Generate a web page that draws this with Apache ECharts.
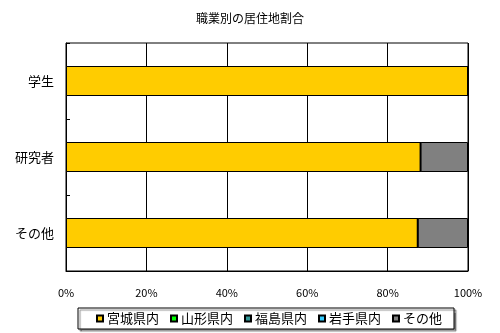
<!DOCTYPE html>
<html>
<head>
<meta charset="utf-8">
<script src="https://cdn.jsdelivr.net/npm/echarts@6/dist/echarts.min.js"></script>
<style>html,body{margin:0;padding:0;background:#fff;}#c{width:500px;height:333px;}</style>
</head>
<body>
<div id="c"></div>
<script>
const categories = ['学生', '研究者', 'その他'];
const seriesNames = ['宮城県内', '山形県内', '福島県内', '岩手県内', 'その他'];
const miyagi = [100, 88.2, 87.5];
const yamagata = [0, 0, 0];
const fukushima = [0, 0, 0];
const iwate = [0, 0, 0];
const other = [0, 11.8, 12.5];
const xTicks = [0, 20, 40, 60, 80, 100];
const colors = ['#FFCC00', '#00FF00', '#339999', '#33CCFF', '#808080'];
const values = [miyagi, yamagata, fukushima, iwate, other];

const FONT = '"Noto Sans CJK JP", sans-serif';
const chart = echarts.init(document.getElementById('c'), null, {renderer: 'canvas'});
chart.setOption({
  animation: false,
  backgroundColor: '#fff',
  textStyle: {fontFamily: FONT, color: '#000'},
  title: {
    text: '職業別の居住地割合', left: 'center', top: 7,
    textStyle: {fontSize: 12, fontWeight: 'normal', color: '#000', fontFamily: FONT}
  },
  grid: {left: 66, right: 32, top: 43, bottom: 62, show: true, borderColor: '#000', borderWidth: 1, backgroundColor: 'transparent'},
  xAxis: {
    type: 'value', min: xTicks[0], max: xTicks[xTicks.length - 1], interval: 20,
    axisLine: {show: true, lineStyle: {color: '#000'}},
    axisTick: {show: false},
    splitLine: {show: true, lineStyle: {color: '#000', width: 1}},
    axisLabel: {formatter: '{value}%', fontSize: 11, color: '#000', margin: 16, fontFamily: FONT}
  },
  yAxis: {
    type: 'category', data: categories, inverse: true,
    axisLine: {show: true, lineStyle: {color: '#000'}},
    axisTick: {show: true, inside: true, length: 4, lineStyle: {color: '#000'}},
    axisLabel: {fontSize: 13, color: '#000', margin: 12, fontFamily: FONT}
  },
  legend: {
    data: seriesNames, left: 78, top: 308,
    itemWidth: 6, itemHeight: 6, itemGap: 11,
    icon: 'rect',
    textStyle: {fontSize: 13, color: '#000', fontFamily: FONT, padding: [0, 0, 0, -1]},
    backgroundColor: '#fff', borderColor: '#000', borderWidth: 1,
    padding: [4, 12, 4, 18],
    shadowColor: 'rgba(0,0,0,0.45)', shadowOffsetX: 2, shadowOffsetY: 2, shadowBlur: 1
  },
  series: seriesNames.map((name, i) => ({
    name: name, type: 'bar', stack: 'total', barWidth: 30,
    data: values[i],
    itemStyle: {color: colors[i], borderColor: '#000', borderWidth: 1}
  }))
});
</script>
</body>
</html>
